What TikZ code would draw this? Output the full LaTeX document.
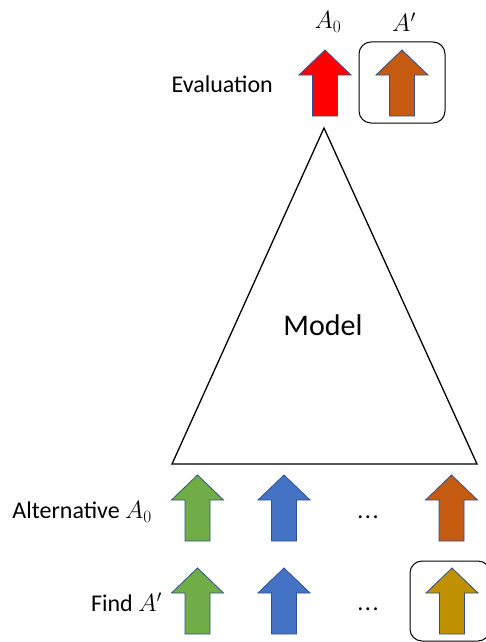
\documentclass[tikz,border=0pt]{standalone}
\usepackage{fontspec}
\setmainfont{Carlito}
\definecolor{arrowline}{HTML}{2F528F}
\definecolor{agreen}{HTML}{70AD47}
\definecolor{ablue}{HTML}{4472C4}
\definecolor{aorange}{HTML}{C55A11}
\definecolor{agold}{HTML}{BF9000}
\definecolor{ared}{HTML}{FF0000}
\begin{document}
\begin{tikzpicture}[x=1pt,y=-1pt,
  blockarrow/.style={fill=#1, draw=arrowline, line width=0.8pt, line join=miter},
  lbl/.style={font=\fontsize{24}{28}\selectfont, inner sep=0pt},
  frame/.style={draw=black, line width=1pt, rounded corners=12pt},
  uparrow/.pic={\path[pic actions] (0,0) -- (26,25) -- (12.5,25) -- (12.5,66)
      -- (-12.5,66) -- (-12.5,25) -- (-26,25) -- cycle;}]
\useasboundingbox (0,0) rectangle (485,642);

% model
\draw[line width=1.3pt, line join=miter] (324,128) -- (477,464) -- (172,464) -- cycle;
\node[lbl, font=\fontsize{30}{34}\selectfont] (model) at (323,325) {Model};

% evaluation row
\node[lbl, anchor=east] (eval) at (273,84) {Evaluation};
\node[lbl, font=\fontsize{25}{29}\selectfont] (a0) at (328,22) {$A_0$};
\node[lbl, font=\fontsize{25}{29}\selectfont] (ap) at (404,22) {$A'$};
\pic[blockarrow=ared] at (325,50) {uparrow};
\pic[blockarrow=aorange] at (402,50) {uparrow};
\draw[frame] (359,42) rectangle (445,123);

% alternative row
\node[lbl, anchor=east] (alt) at (152,512) {Alternative $A_0$};
\pic[blockarrow=agreen] at (197.5,475) {uparrow};
\pic[blockarrow=ablue] at (284,475) {uparrow};
\node[lbl] (dots1) at (368,517) {.\kern1.5pt.\kern1.5pt.};
\pic[blockarrow=aorange] at (451.5,475) {uparrow};

% find row
\node[lbl, anchor=east] (find) at (162,602) {Find $A'$};
\pic[blockarrow=agreen] at (197.5,568) {uparrow};
\pic[blockarrow=ablue] at (284,568) {uparrow};
\node[lbl] (dots2) at (368,609) {.\kern1.5pt.\kern1.5pt.};
\pic[blockarrow=agold] at (452,568) {uparrow};
\draw[frame] (410,561) rectangle (490,641);
\end{tikzpicture}
\end{document}
